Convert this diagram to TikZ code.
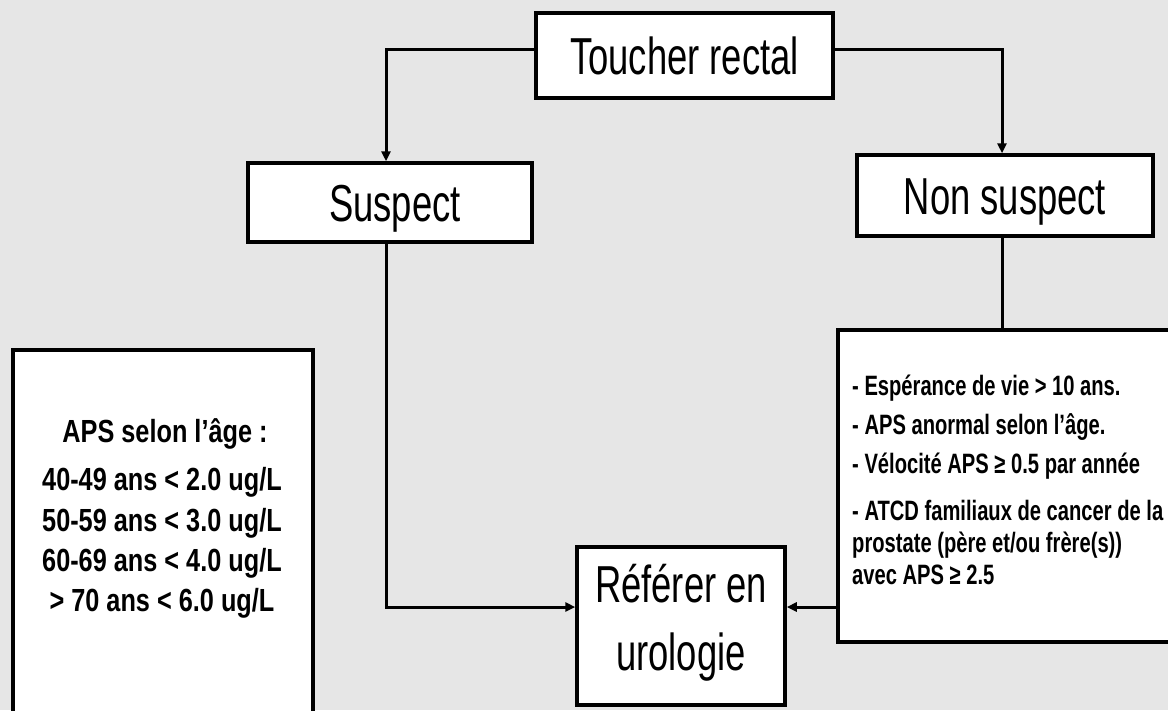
\documentclass[tikz,border=0pt]{standalone}
\usepackage{fontspec}
\setmainfont{Liberation Sans}
\newfontfamily\bigf{Liberation Sans}[FakeStretch=0.70]
\newfontfamily\leftf{Liberation Sans}[FakeStretch=0.79]
\newfontfamily\smallf{Liberation Sans}[FakeStretch=0.72]
\usetikzlibrary{arrows.meta}
\definecolor{bg}{RGB}{230,230,230}
\begin{document}
\begin{tikzpicture}[x=1pt,y=-1pt,
  box/.style={draw=black, line width=3.5pt, fill=white, inner sep=0pt},
  bigtext/.style={font=\bigf\fontsize{52}{60}\selectfont, text height=37pt, text depth=0pt},
  reftext/.style={font=\bigf\fontsize{52}{60}\selectfont, anchor=base, inner sep=0pt},
  ltext/.style={font=\leftf\bfseries\fontsize{32}{36}\selectfont, anchor=base, inner sep=0pt},
  rtext/.style={font=\smallf\bfseries\fontsize{28}{32}\selectfont, anchor=base west, inner sep=0pt},
  conn/.style={line width=3pt},
  arr/.style={conn, -{Triangle[length=10pt,width=9pt]}}]

\fill[bg] (0,0) rectangle (1168,710);
\clip (0,0) rectangle (1168,710);

% boxes
\node[box, bigtext, minimum width=297pt, minimum height=85pt] (toucher) at (684.5,55.5) {Toucher rectal};
\node[box, bigtext, minimum width=284pt, minimum height=79pt] (suspect) at (390,202.5) {\hspace*{10pt}Suspect};
\node[box, bigtext, minimum width=296pt, minimum height=81pt] (nonsusp) at (1005,195.5) {Non suspect};
\node[box, minimum width=352pt, minimum height=312pt] (criteria) at (1014,486) {};
\node[box, minimum width=300pt, minimum height=390pt] (aps) at (163,545) {};
\node[box, minimum width=208pt, minimum height=158pt] (ref) at (681,626) {};

% texts
\node[reftext] (ref1) at (681,602) {Référer en};
\node[reftext] (ref2) at (681,670) {urologie};

\node[ltext] (a1) at (165,442) {APS selon l’âge :};
\node[ltext] (a2) at (162,490) {40-49 ans < 2.0 ug/L};
\node[ltext] (a3) at (162,531) {50-59 ans < 3.0 ug/L};
\node[ltext] (a4) at (162,571) {60-69 ans < 4.0 ug/L};
\node[ltext] (a5) at (162,611) {> 70 ans < 6.0 ug/L};

\node[rtext] (c1) at (852,395) {- Espérance de vie > 10 ans.};
\node[rtext] (c2) at (852,434) {- APS anormal selon l’âge.};
\node[rtext] (c3) at (852,473) {- Vélocité APS ≥ 0.5 par année};
\node[rtext] (c4) at (852,520) {- ATCD familiaux de cancer de la};
\node[rtext] (c5) at (852,552) {prostate (père et/ou frère(s))};
\node[rtext] (c6) at (852,584) {avec APS ≥ 2.5};

% connector helpers
\coordinate (lx) at (386,0);
\coordinate (rx) at (1002,0);
\coordinate (hy) at (0,607);

% connectors
\draw[arr] ([yshift=6pt]toucher.west) -| (lx |- suspect.north);
\draw[arr] ([yshift=6pt]toucher.east) -| (rx |- nonsusp.north);
\draw[conn] (rx |- nonsusp.south) -- (rx |- criteria.north);
\draw[arr] (lx |- suspect.south) |- (ref.west |- hy);
\draw[arr] (criteria.west |- hy) -- (ref.east |- hy);
\end{tikzpicture}
\end{document}
